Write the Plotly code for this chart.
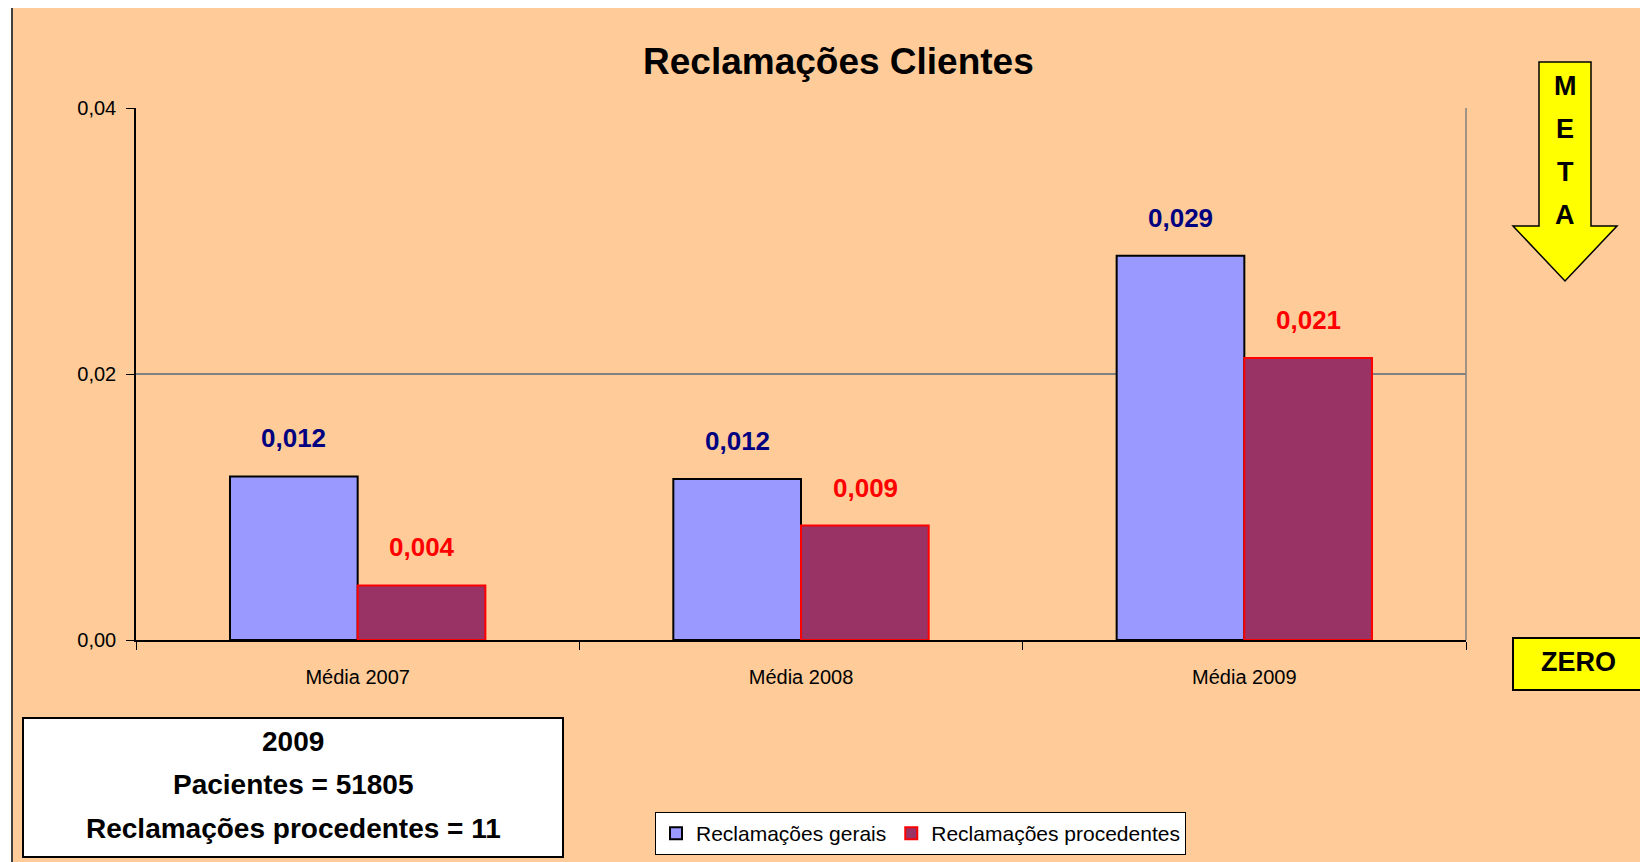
import plotly.graph_objs as go

categorias = ['Média 2007', 'Média 2008', 'Média 2009']
gerais = [0.0123, 0.0121, 0.0289]
procedentes = [0.0041, 0.0086, 0.0212]
y_ticks = [0.0, 0.02, 0.04]

info_linhas = ['2009', 'Pacientes = 51805', 'Reclamações procedentes = 11']

OFF = 8                            # body margin of the html page
W, H = 1648 - OFF, 862 - OFF
L, R, T, B = 136, 1466, 108, 640   # plot area in page pixels

NARROW = 'Liberation Sans Narrow, Arial Narrow, Liberation Sans, sans-serif'
ARIAL = 'Liberation Sans, Arial, sans-serif'
LARANJA = '#FFCC99'


def px(x):
  return (x - L) / (R - L)


def py(y):
  return (B - y) / (B - T)


def fmt(v):
  return f'{v:.3f}'.replace('.', ',')


fig = go.Figure()
fig.add_trace(go.Bar(x=categorias, y=gerais, name='Reclamações gerais',
                     marker=dict(color='#9999FF', line=dict(color='black', width=2))))
fig.add_trace(go.Bar(x=categorias, y=procedentes, name='Reclamações procedentes',
                     marker=dict(color='#993366', line=dict(color='#FF0000', width=2))))

annotations = []
# data labels above bars
for vals, cor, shift in [(gerais, '#000080', -64), (procedentes, '#FF0000', 64)]:
  for c, v in zip(categorias, vals):
    annotations.append(dict(x=c, y=v, xref='x', yref='y', text=fmt(v),
                            showarrow=False, xshift=shift, yshift=38,
                            yanchor='middle',
                            font=dict(family=NARROW, size=26, color=cor,
                                      weight='bold')))

# title
annotations.append(dict(x=px(838), y=py(62), xref='paper', yref='paper',
                        text='Reclamações Clientes', showarrow=False,
                        xanchor='center', yanchor='middle',
                        font=dict(family=NARROW, size=37, color='black', weight='bold')))

# info box text
for txt, yy in zip(info_linhas, [741, 784, 828]):
  annotations.append(dict(x=px(293), y=py(yy), xref='paper', yref='paper',
                          text=txt, showarrow=False, xanchor='center', yanchor='middle',
                          font=dict(family=NARROW, size=28, color='black', weight='bold')))

# META letters
for letra, yy in zip('META', [86, 129, 172, 215]):
  annotations.append(dict(x=px(1565), y=py(yy), xref='paper', yref='paper',
                          text=letra, showarrow=False, xanchor='center', yanchor='middle',
                          font=dict(family=ARIAL, size=27, color='black', weight='bold')))

annotations.append(dict(x=px(1578), y=py(662), xref='paper', yref='paper',
                        text='ZERO', showarrow=False, xanchor='center', yanchor='middle',
                        font=dict(family=ARIAL, size=27, color='black', weight='bold')))

seta = (f'M {px(1539)},{py(62)} L {px(1591)},{py(62)} L {px(1591)},{py(226)} '
        f'L {px(1617)},{py(226)} L {px(1565)},{py(281)} L {px(1513)},{py(226)} '
        f'L {px(1539)},{py(226)} Z')

shapes = [
  # orange chart background
  dict(type='rect', xref='paper', yref='paper', layer='below',
       x0=px(12), x1=px(1700), y0=py(5), y1=py(900),
       fillcolor=LARANJA, line=dict(color='#404040', width=2)),
  # right border of plot area
  dict(type='line', xref='paper', yref='paper', x0=1, x1=1, y0=0, y1=1,
       line=dict(color='#808080', width=1.5)),
  # info box
  dict(type='rect', xref='paper', yref='paper',
       x0=px(23), x1=px(563), y0=py(718), y1=py(857),
       fillcolor='white', line=dict(color='black', width=2)),
  # META arrow
  dict(type='path', xref='paper', yref='paper', path=seta,
       fillcolor='#FFFF00', line=dict(color='black', width=1.5)),
  # ZERO box
  dict(type='rect', xref='paper', yref='paper',
       x0=px(1513), x1=px(1643), y0=py(638), y1=py(690),
       fillcolor='#FFFF00', line=dict(color='black', width=2)),
]

fig.update_layout(
  width=W, height=H,
  margin=dict(l=L - OFF, r=W - (R - OFF), t=T - OFF, b=H - (B - OFF), pad=0,
              autoexpand=False),
  paper_bgcolor='white',
  plot_bgcolor='white',
  separators=',.',
  barmode='group',
  bargap=0.424,
  bargroupgap=0,
  showlegend=True,
  legend=dict(orientation='h', x=px(655), y=py(812), xanchor='left', yanchor='top',
              bgcolor='white', bordercolor='black', borderwidth=1,
              font=dict(family=NARROW, size=21, color='black'),
              itemwidth=30, tracegroupgap=0),
  xaxis=dict(showline=True, linecolor='black', linewidth=1.5,
             ticks='outside', tickson='boundaries', ticklen=8, tickcolor='black',
             tickfont=dict(family=NARROW, size=20, color='black'),
             ticklabelstandoff=18, showgrid=False),
  yaxis=dict(range=[0, 0.04], tickvals=y_ticks, tickformat='.2f',
             showline=True, linecolor='black', linewidth=1.5,
             ticks='outside', ticklen=8, tickcolor='black',
             tickfont=dict(family=NARROW, size=20, color='black'),
             ticklabelstandoff=6,
             showgrid=True, gridcolor='#808080', gridwidth=1.5, zeroline=False),
  annotations=annotations,
  shapes=shapes,
)

fig.write_html('out.html')
